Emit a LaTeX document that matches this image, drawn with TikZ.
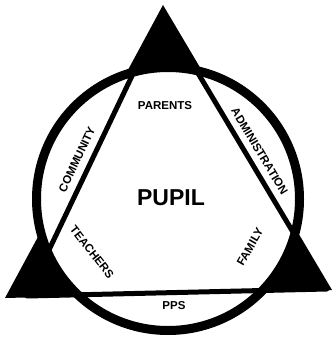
\documentclass[tikz,border=0pt]{standalone}
\usepackage{fontspec}
\setmainfont{Liberation Sans}
\begin{document}
\begin{tikzpicture}[x=1pt,y=-1pt,
    tag/.style={font=\fontsize{11.5}{11.5}\selectfont\bfseries,inner sep=0pt},
    rim/.style={line width=9pt},
    side/.style={line width=5pt,line join=round}
]
\useasboundingbox (0,0) rectangle (333,342);
% corner tips and inner triangle
\coordinate (Ttip) at (163,5);
\coordinate (Ltip) at (5,298);
\coordinate (Rtip) at (332,290);
\coordinate (T) at (162,13);
\coordinate (L) at (27,296);
\coordinate (R) at (327,289);
\coordinate (O) at (168,199);

\fill (Ttip) -- (Ltip) -- (Rtip) -- cycle;
\fill[white] (O) circle[radius=131.5pt];
\draw[side] (T) -- (L) -- (R) -- cycle;
\draw[rim] (O) circle[radius=131.5pt];

\node[tag] (parents) at (165,106) {PARENTS};
\node[tag,font=\fontsize{23}{23}\selectfont\bfseries] (pupil) at (171,198) {PUPIL};
\node[tag,rotate=-59] (admin) at (259.7,151.3) {ADMINISTRATION};
\node[tag,rotate=60] (family) at (250,247) {FAMILY};
\node[tag] (pps) at (174,306) {PPS};
\node[tag,rotate=64.7] (community) at (77,159.5) {COMMUNITY};
\node[tag,rotate=-52] (teachers) at (92,252) {TEACHERS};
\end{tikzpicture}
\end{document}
